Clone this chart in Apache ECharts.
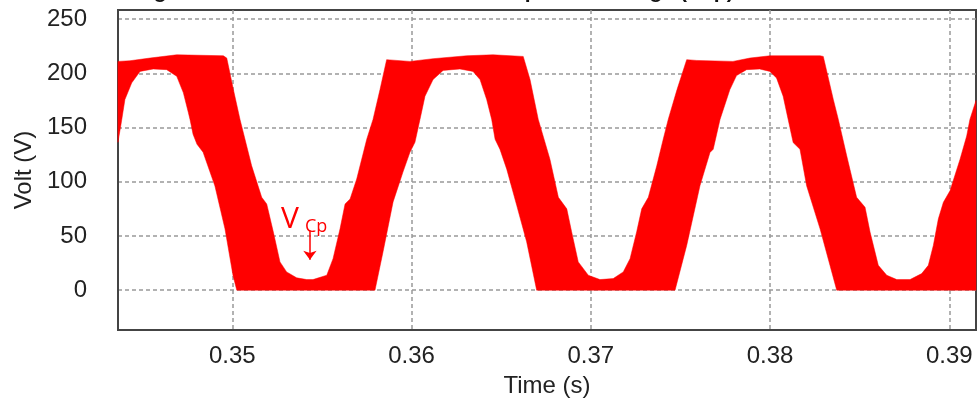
<!DOCTYPE html>
<html>
<head>
<meta charset="utf-8">
<script src="https://cdn.jsdelivr.net/npm/echarts@6/dist/echarts.min.js"></script>
<style>html,body{margin:0;padding:0;background:#fff;}#c{width:978px;height:403px;}</style>
</head>
<body>
<div id="c"></div>
<script>
// ---- data ----
const titleText = 'Figure 9. Simulated waveform of the capacitor voltage (vCp)';
const xTicks = [0.35, 0.36, 0.37, 0.38, 0.39];
const yTicks = [0, 50, 100, 150, 200, 250];
// upper envelope of the switching band (s, V)
const upperTime = [0.34362,0.34429,0.34541,0.34690,0.34950,0.34969,0.35006,0.35043,0.35108,0.35164,0.35192,0.35229,0.35266,0.35303,0.35359,0.35415,0.35450,0.35527,0.35562,0.35601,0.35629,0.35657,0.35694,0.35750,0.35785,0.35824,0.35861,0.35991,0.36120,0.36308,0.36454,0.36623,0.36661,0.36707,0.36772,0.36819,0.36866,0.36893,0.36930,0.36986,0.37051,0.37125,0.37181,0.37219,0.37256,0.37284,0.37321,0.37368,0.37404,0.37432,0.37481,0.37535,0.37591,0.37793,0.37888,0.38000,0.38279,0.38297,0.38353,0.38381,0.38428,0.38483,0.38530,0.38558,0.38604,0.38651,0.38707,0.38781,0.38846,0.38883,0.38911,0.38939,0.38967,0.39004,0.39060,0.39097,0.39115,0.39149];
const upperVolt = [211.0,211.6,214.1,217.1,216.2,214.1,185.0,157.5,114.7,85.7,79.5,53.6,26.1,16.9,11.4,9.8,9.8,13.8,29.1,56.6,79.5,84.1,102.5,139.2,157.5,185.0,212.6,211.0,213.5,216.2,217.1,215.6,194.2,157.5,120.8,85.7,75.0,53.9,26.1,13.8,9.8,10.7,16.9,29.1,53.9,75.0,85.7,114.7,139.2,157.5,185.0,212.6,211.9,211.0,214.1,216.2,216.2,215.6,175.9,157.5,123.8,85.7,76.5,53.6,22.9,13.8,9.8,9.8,15.3,22.9,41.3,65.8,81.1,91.7,120.8,142.2,157.5,174.9];
// lower envelope of the switching band (s, V)
const lowerTime = [0.34362,0.34379,0.34401,0.34439,0.34485,0.34559,0.34634,0.34690,0.34727,0.34755,0.34764,0.34781,0.34803,0.34837,0.34903,0.34959,0.35004,0.35025,0.35796,0.35841,0.35897,0.35952,0.35991,0.36019,0.36047,0.36075,0.36120,0.36176,0.36270,0.36343,0.36382,0.36419,0.36447,0.36466,0.36493,0.36531,0.36587,0.36642,0.36698,0.37470,0.37535,0.37609,0.37665,0.37683,0.37721,0.37776,0.37813,0.37869,0.37942,0.37999,0.38036,0.38073,0.38101,0.38129,0.38167,0.38204,0.38279,0.38372,0.39149];
const lowerVolt = [136.4,152.9,175.9,191.2,201.8,204.0,203.4,197.2,182.0,163.7,157.5,143.8,134.6,127.2,96.1,56.6,13.5,0,0,35.5,81.4,108.9,127.2,136.4,157.5,178.9,194.2,202.7,204.0,201.8,194.2,175.9,157.5,139.2,130.0,111.6,78.0,44.7,0,0,41.3,96.3,127.0,130.0,157.5,185.0,197.9,203.4,204.0,201.8,195.8,178.9,157.5,136.1,130.0,96.3,56.6,0,0];
// annotation
const annText = 'V';
const annSub = 'Cp';
const annArrow = [[0.35433, 55], [0.35433, 28]];

const chart = echarts.init(document.getElementById('c'), null, {renderer: 'canvas'});
const FONT = 'Liberation Sans, Arial, sans-serif';
const option = {
  animation: false,
  backgroundColor: '#ffffff',
  title: {
    text: titleText, left: 135, top: -18, padding: 0,
    textStyle: {fontSize: 21, fontWeight: 'bold', color: '#111', fontFamily: FONT}
  },
  grid: {left: 118, right: 2, top: 10, bottom: 71.3, show: true, borderColor: '#444', borderWidth: 2, backgroundColor: 'transparent'},
  xAxis: {
    type: 'value', min: 0.343623, max: 0.39149,
    name: 'Time (s)', nameLocation: 'middle', nameGap: 44,
    nameTextStyle: {fontSize: 24, color: '#222', fontFamily: FONT},
    axisLine: {show: true, onZero: false, lineStyle: {color: '#444', width: 2}},
    axisTick: {show: false, customValues: xTicks},
    axisLabel: {customValues: xTicks, fontSize: 24, color: '#222', fontFamily: FONT, margin: 14,
      formatter: v => v.toFixed(2)},
    splitLine: {show: true, lineStyle: {color: '#999', type: [4, 3], width: 1.5}}
  },
  yAxis: {
    type: 'value', min: -36.7, max: 258.4,
    name: 'Volt (V)', nameLocation: 'middle', nameGap: 82, nameRotate: 90,
    nameTextStyle: {fontSize: 24, color: '#222', fontFamily: FONT},
    axisLine: {show: true, onZero: false, lineStyle: {color: '#444', width: 2}},
    axisTick: {show: false, customValues: yTicks},
    axisLabel: {customValues: yTicks, fontSize: 24, color: '#222', fontFamily: FONT, margin: 31},
    splitLine: {show: true, lineStyle: {color: '#999', type: [4, 3], width: 1.5}}
  },
  series: [{
    type: 'custom',
    data: [[upperTime[0], upperVolt[0]]],
    silent: true,
    z: 3,
    renderItem: function (params, api) {
      const pts = [];
      for (let i = 0; i < upperTime.length; i++) pts.push(api.coord([upperTime[i], upperVolt[i]]));
      for (let i = lowerTime.length - 1; i >= 0; i--) pts.push(api.coord([lowerTime[i], lowerVolt[i]]));
      return {type: 'polygon', shape: {points: pts}, style: {fill: '#ff0000', stroke: '#ff0000', lineWidth: 0.5}};
    },
    markLine: {
      silent: true, symbol: ['none', 'arrow'], symbolSize: [10, 9],
      lineStyle: {color: '#ff0000', width: 1.5, type: 'solid'},
      label: {show: false},
      data: [[{coord: annArrow[0]}, {coord: annArrow[1]}]]
    }
  }]
};
chart.setOption(option);
const p = chart.convertToPixel({gridIndex: 0}, annArrow[0]);
chart.setOption({
  graphic: [
    {type: 'text', x: p[0] - 29, y: p[1] + 4, z: 10,
      style: {text: annText, fill: '#ff0000', font: '30px "Open Sans", sans-serif', textVerticalAlign: 'bottom'}},
    {type: 'text', x: p[0] - 5, y: p[1] + 5, z: 10,
      style: {text: annSub, fill: '#ff0000', font: '18px "Open Sans", sans-serif', textVerticalAlign: 'bottom'}}
  ]
});
</script>
</body>
</html>
